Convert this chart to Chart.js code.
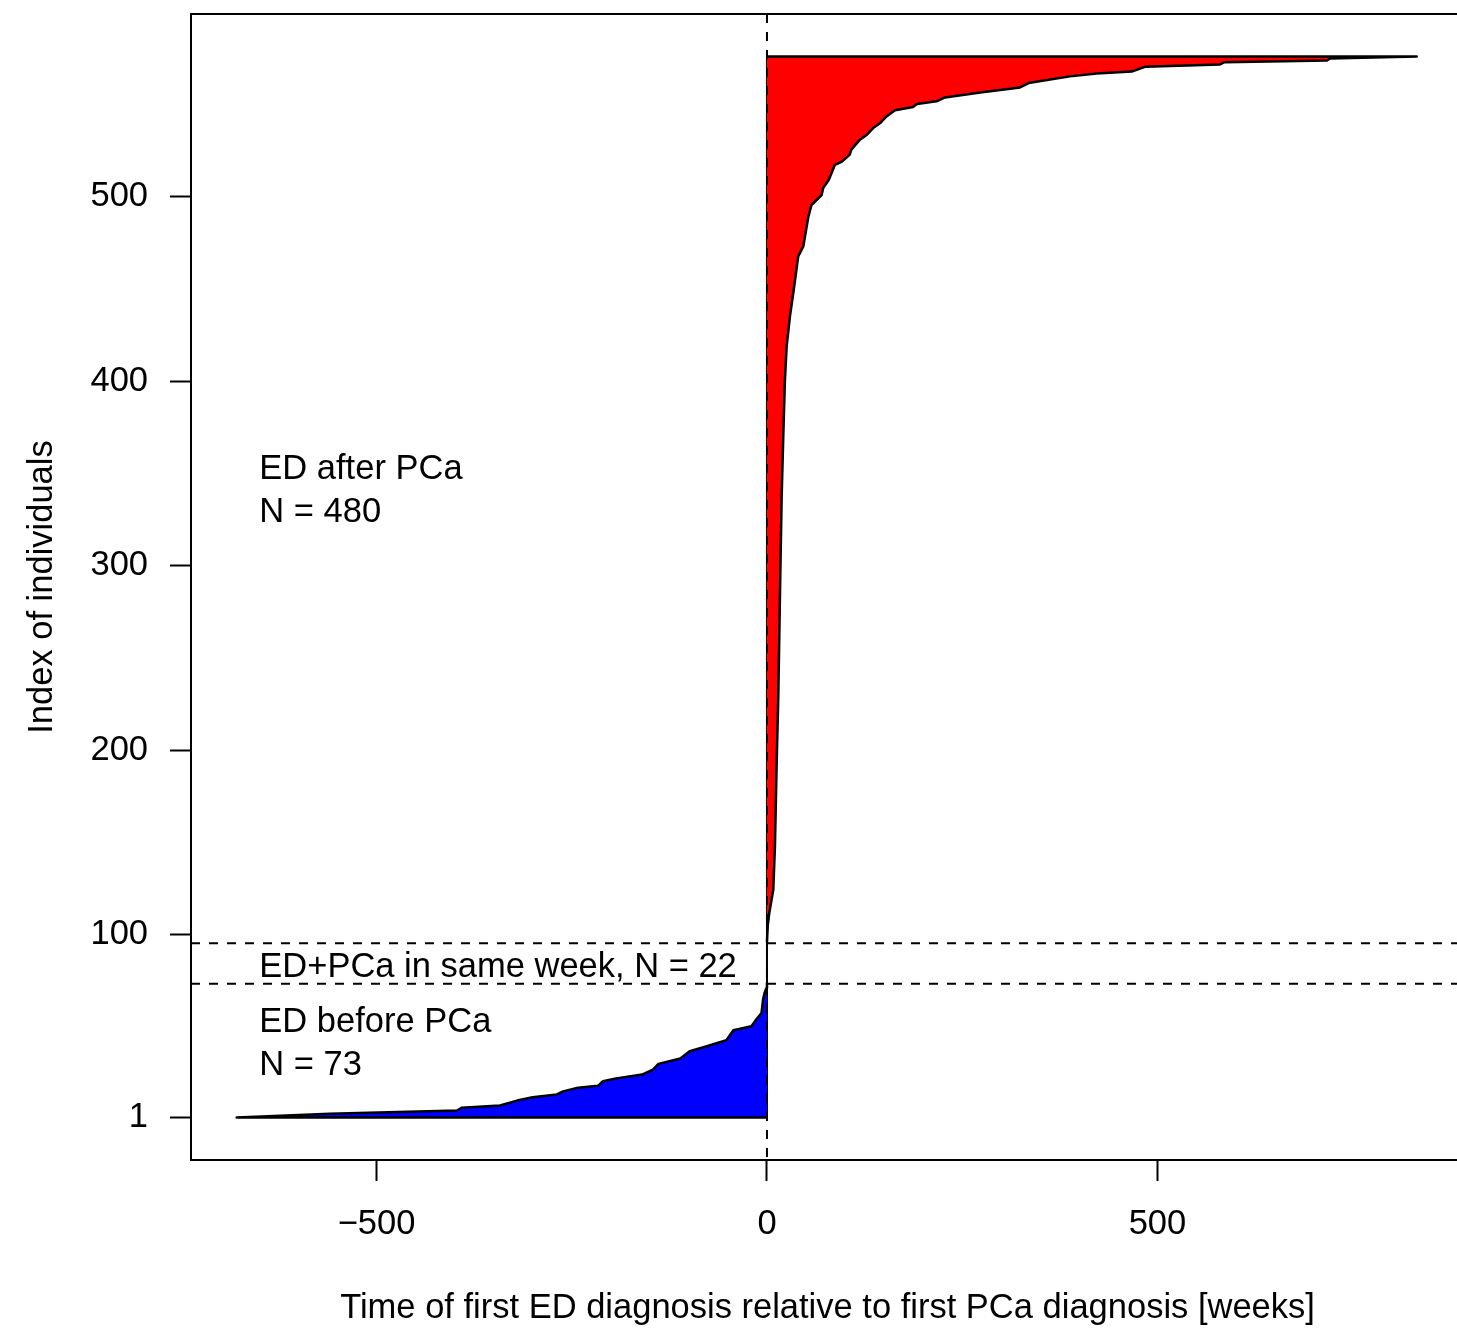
<!DOCTYPE html>
<html>
<head>
<meta charset="utf-8">
<script src="https://cdn.jsdelivr.net/npm/chart.js@4.4.1/dist/chart.umd.min.js"></script>
<style>
  html, body { margin: 0; padding: 0; background: #fff; overflow: hidden; }
  #wrap { width: 1480px; height: 1331px; }
</style>
</head>
<body>
<div id="wrap"><canvas id="edChart" width="1480" height="1331"></canvas></div>
<script>
// Sorted time of first ED diagnosis (weeks, relative to first PCa) vs index of individual
// ED before PCa (blue); first point / last point close the shape on 0
const beforeIdx   = [1, 1, 3, 4.8, 6.3, 7.5, 10.2, 12, 13.5, 15.2, 17.2, 18.3, 20.7, 22.1, 24.3, 27, 30.1, 33, 36.9, 39.6, 42.9, 48.3, 50.5, 54.5, 57.7, 64.9, 68.7, 71, 74];
const beforeWeeks = [0, -679, -560, -397, -391, -342, -320, -300, -269, -261, -242, -216, -210, -195, -160, -146, -139, -111, -99, -77, -52, -43, -20, -13, -7, -5, -3, -1, 0];

// ED after PCa (red)
const afterIdx   = [96, 105, 112, 124.5, 148, 193, 229.3, 283.4, 337.6, 372, 400.9, 418.9, 435.2, 447.8, 467.7, 473, 489.2, 495.5, 500.9, 504.7, 508.7, 511, 517.3, 519, 522.8, 525.5, 530.9, 533.6, 537.2, 539.9, 543.5, 546.8, 548.6, 550.2, 551.7, 553.8, 556.5, 559.2, 561.6, 565.2, 566.7, 567.8, 570.4, 571.7, 572.9, 573.8, 574.9, 576, 576];
const afterWeeks = [0, 1, 3, 8.1, 10.2, 12.4, 14.5, 16.6, 18.8, 21, 23, 25.2, 29.4, 33.7, 40, 46.5, 53, 57, 70, 72, 78.5, 81, 87, 96, 106, 108, 119, 128, 136, 145, 153, 164, 187, 192, 217, 228, 273, 324, 335, 388, 422, 467, 484, 580, 586, 717, 721, 832, 0];

// same-week individuals and the polygons' edge along 0
const zeroIdx   = [1, 576];
const zeroWeeks = [0, 0];

// dashed separators between groups
const cutIdx = [73.5, 95.5];

const xTickValues = [-500, 0, 500];
const yTickValues = [1, 100, 200, 300, 400, 500];

const noteText = ['ED after PCa', 'N = 480', 'ED+PCa in same week, N = 22', 'ED before PCa', 'N = 73'];
const noteIdx  = [352.2, 328.9, 82.4, 52.5, 29.2];
const noteWeek = -650;

const FONT = '"Liberation Sans", Arial, Helvetica, sans-serif';
const FONT_SIZE = 34.5;
Chart.defaults.font.family = FONT;
Chart.defaults.font.size = FONT_SIZE;
Chart.defaults.color = '#000';

const toPoints = (idx, weeks) => idx.map((v, i) => ({ x: weeks[i], y: v }));

const refLines = {
    id: 'refLines',
    afterDatasetsDraw(chart) {
        const { ctx, chartArea: a, scales: { x, y } } = chart;
        ctx.save();
        ctx.strokeStyle = '#000';
        ctx.lineWidth = 2;
        ctx.setLineDash([9, 9]);
        cutIdx.forEach(v => {
            const py = y.getPixelForValue(v);
            ctx.beginPath();
            ctx.moveTo(a.left, py);
            ctx.lineTo(a.right, py);
            ctx.stroke();
        });
        const px = x.getPixelForValue(0);
        ctx.beginPath();
        ctx.moveTo(px, a.top);
        ctx.lineTo(px, a.bottom);
        ctx.stroke();
        ctx.setLineDash([]);

        // group labels
        ctx.fillStyle = '#000';
        ctx.font = FONT_SIZE + 'px ' + FONT;
        ctx.textAlign = 'left';
        ctx.textBaseline = 'middle';
        noteText.forEach((t, i) => {
            ctx.fillText(t, x.getPixelForValue(noteWeek), y.getPixelForValue(noteIdx[i]));
        });

        // box round the plot
        ctx.lineWidth = 2;
        ctx.strokeRect(a.left, a.top, a.right - a.left, a.bottom - a.top);
        ctx.restore();
    }
};

new Chart(document.getElementById('edChart'), {
    type: 'line',
    data: {
        datasets: [{
            label: 'ED before PCa',
            data: toPoints(beforeIdx, beforeWeeks),
            borderColor: '#000',
            borderWidth: 2.5,
            borderJoinStyle: 'round',
            backgroundColor: '#0000FF',
            fill: 'origin',
            pointRadius: 0,
            tension: 0
        }, {
            label: 'ED after PCa',
            data: toPoints(afterIdx, afterWeeks),
            borderColor: '#000',
            borderWidth: 2.5,
            borderJoinStyle: 'round',
            backgroundColor: '#FF0000',
            fill: 'origin',
            pointRadius: 0,
            tension: 0
        }, {
            label: 'same week',
            data: toPoints(zeroIdx, zeroWeeks),
            borderColor: '#000',
            borderWidth: 2,
            fill: false,
            pointRadius: 0
        }]
    },
    options: {
        indexAxis: 'y',
        responsive: false,
        animation: false,
        events: [],
        layout: { padding: { left: 0, right: 16, top: 14, bottom: 2 } },
        plugins: { legend: { display: false }, tooltip: { enabled: false } },
        scales: {
            x: {
                type: 'linear',
                position: 'bottom',
                min: -737.5,
                max: 892.5,
                afterBuildTicks: s => { s.ticks = xTickValues.map(v => ({ value: v })); },
                afterFit: s => { s.height = 169; s.paddingLeft = 0; s.paddingRight = 0; },
                ticks: {
                    padding: 23,
                    maxRotation: 0,
                    autoSkip: false,
                    callback: v => (v < 0 ? '\u2212' + Math.abs(v) : String(v))
                },
                grid: { drawOnChartArea: false, drawTicks: true, tickLength: 21, tickColor: '#000', tickWidth: 2 },
                border: { display: false },
                title: {
                    display: true,
                    text: 'Time of first ED diagnosis relative to first PCa diagnosis [weeks]',
                    padding: { top: 0, bottom: 0 }
                }
            },
            y: {
                type: 'linear',
                position: 'left',
                min: -22,
                max: 599,
                afterBuildTicks: s => { s.ticks = yTickValues.map(v => ({ value: v })); },
                afterFit: s => { s.width = 191; s.paddingTop = 0; s.paddingBottom = 0; },
                ticks: { padding: 22, autoSkip: false },
                grid: { drawOnChartArea: false, drawTicks: true, tickLength: 21, tickColor: '#000', tickWidth: 2 },
                border: { display: false },
                title: {
                    display: true,
                    text: 'Index of individuals',
                    padding: { top: 22, bottom: 0 }
                }
            }
        }
    },
    plugins: [refLines]
});
</script>
</body>
</html>
